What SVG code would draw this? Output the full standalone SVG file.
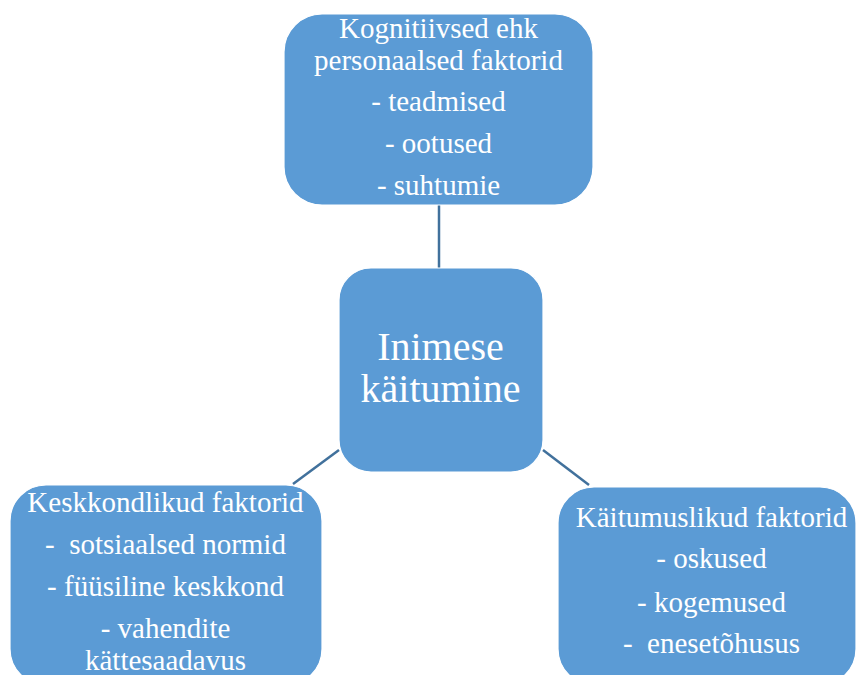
<svg xmlns="http://www.w3.org/2000/svg" width="856" height="675" viewBox="0 0 856 675">
  <style>
    .box { fill: #5b9bd5; stroke: #ffffff; stroke-width: 1.2; }
    .lbl { font-family: "Liberation Serif", "Times New Roman", serif; font-size: 29px; fill: #ffffff; text-anchor: middle; }
    .big { font-size: 40px; }
    .link { stroke: #41719c; stroke-width: 2.5; fill: none; }
  </style>
  <rect width="856" height="675" fill="#ffffff"/>

  <g id="connectors">
    <line class="link" x1="439" y1="205" x2="439" y2="268"/>
    <line class="link" x1="293" y1="484" x2="339" y2="450"/>
    <line class="link" x1="543" y1="450" x2="589" y2="485"/>
  </g>

  <g id="node-cognitive">
    <rect class="box" x="284" y="14" width="309" height="191" rx="38" ry="38"/>
    <text class="lbl" x="438.5" y="38">Kognitiivsed ehk</text>
    <text class="lbl" x="438.5" y="70">personaalsed faktorid</text>
    <text class="lbl" x="438.5" y="111">- teadmised</text>
    <text class="lbl" x="438.5" y="153">- ootused</text>
    <text class="lbl" x="438.5" y="195">- suhtumie</text>
  </g>

  <g id="node-behaviour">
    <rect class="box" x="339" y="268" width="204" height="204" rx="32" ry="32"/>
    <text class="lbl big" x="440.5" y="360">Inimese</text>
    <text class="lbl big" x="440.5" y="402">käitumine</text>
  </g>

  <g id="node-environment">
    <rect class="box" x="10" y="485" width="312" height="200" rx="36" ry="36"/>
    <text class="lbl" x="165.5" y="512">Keskkondlikud faktorid</text>
    <text class="lbl" x="165.5" y="554" xml:space="preserve">-  sotsiaalsed normid</text>
    <text class="lbl" x="165.5" y="596">- füüsiline keskkond</text>
    <text class="lbl" x="165.5" y="638">- vahendite</text>
    <text class="lbl" x="165.5" y="670">kättesaadavus</text>
  </g>

  <g id="node-behavioural">
    <rect class="box" x="558" y="487" width="298" height="198" rx="36" ry="36"/>
    <text class="lbl" x="711.5" y="527">Käitumuslikud faktorid</text>
    <text class="lbl" x="711.5" y="568">- oskused</text>
    <text class="lbl" x="711.5" y="612">- kogemused</text>
    <text class="lbl" x="711.5" y="653" xml:space="preserve">-  enesetõhusus</text>
  </g>
</svg>
